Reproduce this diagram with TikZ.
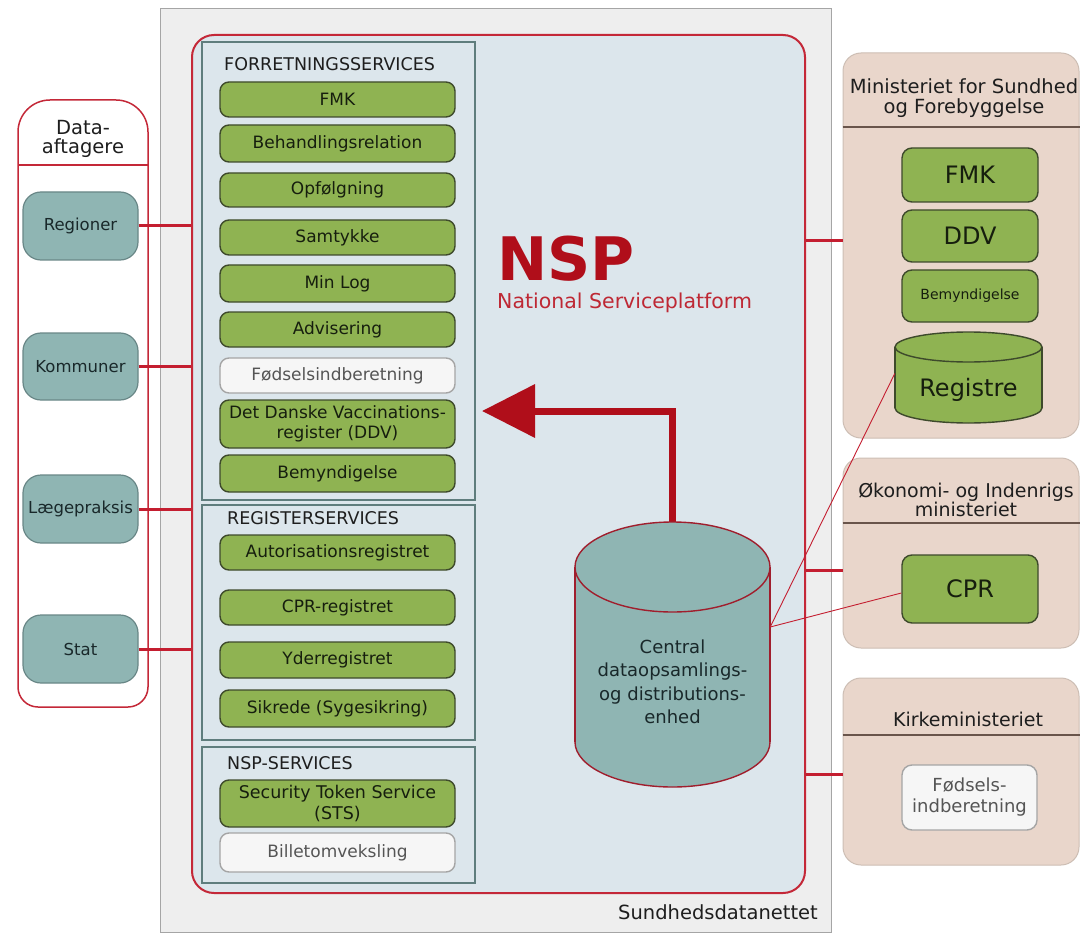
\documentclass[tikz,border=0pt]{standalone}
\usepackage{fontspec}
\setmainfont{DejaVu Sans}
\usetikzlibrary{arrows.meta}
\definecolor{graybg}{RGB}{238,238,238}
\definecolor{graybd}{RGB}{165,165,165}
\definecolor{nspfill}{RGB}{220,230,236}
\definecolor{nspred}{RGB}{196,40,56}
\definecolor{nspdark}{RGB}{176,14,26}
\definecolor{nspred2}{RGB}{190,40,52}
\definecolor{linkred}{RGB}{196,30,48}
\definecolor{sborder}{RGB}{95,125,125}
\definecolor{gfill}{RGB}{143,179,82}
\definecolor{gborder}{RGB}{62,74,44}
\definecolor{gtext}{RGB}{22,30,14}
\definecolor{wfill}{RGB}{246,246,246}
\definecolor{wborder}{RGB}{165,165,165}
\definecolor{wtext}{RGB}{85,85,85}
\definecolor{tfill}{RGB}{143,181,179}
\definecolor{tborder}{RGB}{105,135,135}
\definecolor{ttext}{RGB}{25,40,42}
\definecolor{pfill}{RGB}{233,214,203}
\definecolor{pborder}{RGB}{205,190,180}
\definecolor{pdiv}{RGB}{105,85,75}
\definecolor{cylborder}{RGB}{160,30,45}
\definecolor{labeldark}{RGB}{30,30,30}
\newcommand\myfs[2]{\fontsize{#1pt}{#2pt}\selectfont}
% xc, rx, y top centre, y bottom centre, ry, fill, draw, line width
\newcommand\mycyl[8]{%
  \fill[#6] (#1-#2,#3) rectangle (#1+#2,#4);
  \fill[#6] (#1,#4) ellipse[x radius=#2, y radius=#5];
  \begin{scope}
    \clip (#1-#2-5,#4) rectangle (#1+#2+5,#4+#5+5);
    \draw[#7,line width=#8] (#1,#4) ellipse[x radius=#2, y radius=#5];
  \end{scope}
  \draw[#7,line width=#8] (#1-#2,#3) -- (#1-#2,#4) (#1+#2,#3) -- (#1+#2,#4);
  \filldraw[fill=#6,draw=#7,line width=#8] (#1,#3) ellipse[x radius=#2, y radius=#5];
}
\begin{document}
\begin{tikzpicture}[x=1pt,y=-1pt,
  gbox/.style={draw=gborder, fill=gfill, rounded corners=9pt, line width=1.4pt,
    minimum width=235pt, inner sep=0pt, align=center, text=gtext, font=\myfs{17}{20}},
  wbox/.style={gbox, draw=wborder, fill=wfill, text=wtext},
  tbox/.style={draw=tborder, fill=tfill, rounded corners=18pt, line width=1.2pt,
    minimum width=115pt, minimum height=67pt, inner sep=0pt, text=ttext, font=\myfs{16.5}{19}},
  rbox/.style={gbox, minimum width=136pt, rounded corners=10pt, font=\myfs{24}{26}},
  panel/.style={draw=pborder, fill=pfill, rounded corners=18pt, line width=1pt, inner sep=0pt,
    minimum width=236pt},
  ptitle/.style={align=center, inner sep=0pt, text=labeldark, font=\myfs{19.5}{20}},
  secbox/.style={draw=sborder, fill=nspfill, line width=2pt, inner sep=0pt, minimum width=273pt},
  seclabel/.style={anchor=west, inner sep=0pt, text=labeldark, font=\myfs{17.5}{20}},
  stub/.style={draw=linkred, line width=3pt},
  thinlink/.style={draw=linkred, line width=0.9pt}
]
\useasboundingbox (0,0) rectangle (1081,933);
\fill[white] (0,0) rectangle (1081,933);

% network background
\node[draw=graybd, fill=graybg, line width=1pt, inner sep=0pt,
  minimum width=671pt, minimum height=923pt] (net) at (495.5,470.5) {};
\node[anchor=east, inner sep=0pt, text=labeldark, font=\myfs{19.5}{22}] (netlabel) at (818,912) {Sundhedsdatanettet};

% NSP platform
\node[draw=nspred, fill=nspfill, line width=2pt, rounded corners=22pt, inner sep=0pt,
  minimum width=613pt, minimum height=858pt] (nsp) at (498.5,464) {};

% sections
\node[secbox, minimum height=458pt] (forr) at (338.5,271) {};
\node[secbox, minimum height=235pt] (reg) at (338.5,622.5) {};
\node[secbox, minimum height=136pt] (nspsvc) at (338.5,815) {};
\node[seclabel] (forrlbl) at (224,64) {FORRETNINGSSERVICES};
\node[seclabel] (reglbl) at (227,518) {REGISTERSERVICES};
\node[seclabel] (nsplbl) at (227,763) {NSP-SERVICES};

% Forretningsservices
\node[gbox, minimum height=35pt] (fmk) at (337.5,99.5) {FMK};
\node[gbox, minimum height=37pt] (beh) at (337.5,143.5) {Behandlingsrelation};
\node[gbox, minimum height=34pt] (opf) at (337.5,190) {Opfølgning};
\node[gbox, minimum height=35pt] (sam) at (337.5,237.5) {Samtykke};
\node[gbox, minimum height=37pt] (minlog) at (337.5,283.5) {Min Log};
\node[gbox, minimum height=35pt] (adv) at (337.5,329.5) {Advisering};
\node[wbox, minimum height=35pt] (fods) at (337.5,375.5) {Fødselsindberetning};
\node[gbox, minimum height=48pt] (ddv) at (337.5,424) {Det Danske Vaccinations-\\register (DDV)};
\node[gbox, minimum height=37pt] (bem) at (337.5,473.5) {Bemyndigelse};

% Registerservices
\node[gbox, minimum height=35pt] (aut) at (337.5,552.5) {Autorisationsregistret};
\node[gbox, minimum height=35pt] (cprreg) at (337.5,607.5) {CPR-registret};
\node[gbox, minimum height=36pt] (yder) at (337.5,660) {Yderregistret};
\node[gbox, minimum height=37pt] (sik) at (337.5,708.5) {Sikrede (Sygesikring)};

% NSP-services
\node[gbox, minimum height=47pt, font=\myfs{17.5}{21}] (sts) at (337.5,803.5) {Security Token Service\\(STS)};
\node[wbox, minimum height=39pt] (bil) at (337.5,852.5) {Billetomveksling};

% NSP title
\node[anchor=west, inner sep=0pt, text=nspdark, font=\bfseries\myfs{60}{60}] (nsptitle) at (497,259) {NSP};
\node[anchor=west, inner sep=0pt, text=nspred2, font=\myfs{20.5}{22}] (nspsub) at (497,303) {National Serviceplatform};

% data-aftagere panel
\draw[draw=nspred, fill=white, line width=1.5pt]
  (18,300) [rounded corners=32pt] -- (18,100) -- (148,100) -- (148,300)
  [rounded corners=20pt] -- (148,707) -- (18,707) -- cycle;
\draw[nspred, line width=1.5pt] (18,165) -- (148,165);
\node[align=center, inner sep=0pt, text=labeldark, font=\myfs{19.5}{19}] (dtitle) at (83,139) {Data-\\aftagere};
\node[tbox, minimum height=68pt] (regioner) at (80.5,226) {Regioner};
\node[tbox] (kommuner) at (80.5,366.5) {Kommuner};
\node[tbox, minimum height=68pt] (laege) at (80.5,509) {Lægepraksis};
\node[tbox, minimum height=68pt] (stat) at (80.5,649) {Stat};
\foreach \n in {regioner,kommuner,laege,stat}
  \draw[stub] (\n.east) -- (\n.east -| nsp.west);

% right panels
\node[panel, minimum height=385pt] (mfs) at (961,245.5) {};
\draw[pdiv, line width=1.3pt] (mfs.west |- 0,127) -- (mfs.east |- 0,127);
\node[ptitle] (mfstitle) at (964,98) {Ministeriet for Sundhed\\og Forebyggelse};
\node[rbox, minimum height=54pt] (mfmk) at (970,175) {FMK};
\node[rbox, minimum height=52pt] (mddv) at (970,236) {DDV};
\node[rbox, minimum height=52pt, font=\myfs{14}{16}] (mbem) at (970,296) {Bemyndigelse};
\mycyl{968.5}{73.5}{347}{408}{15}{gfill}{gborder}{1.4pt}
\node[inner sep=0pt, minimum width=147pt, minimum height=91pt] (registre) at (968.5,377.5) {};
\node[inner sep=0pt, text=gtext, font=\myfs{24}{26}] (registretxt) at (968.5,390) {Registre};

\node[panel, minimum height=190pt] (oim) at (961,553) {};
\draw[pdiv, line width=1.3pt] (oim.west |- 0,523) -- (oim.east |- 0,523);
\node[ptitle, font=\myfs{19}{19}] (oimtitle) at (966,500) {Økonomi- og Indenrigs\\ministeriet};
\node[rbox, minimum height=68pt] (cpr) at (970,589) {CPR};

\node[panel, minimum height=187pt] (kirke) at (961,771.5) {};
\draw[pdiv, line width=1.3pt] (kirke.west |- 0,735) -- (kirke.east |- 0,735);
\node[ptitle, font=\myfs{19}{20}] (kirketitle) at (968,719) {Kirkeministeriet};
\node[rbox, draw=wborder, fill=wfill, text=wtext, minimum height=65pt, minimum width=135pt,
  font=\myfs{18}{21}] (kfods) at (969.5,797.5) {Fødsels-\\indberetning};

% right stubs
\path ([yshift=4.5pt]mfs.west) coordinate (s1)
      ([yshift=-17pt]oim.west) coordinate (s2)
      ([yshift=-2.5pt]kirke.west) coordinate (s3);
\foreach \s in {s1,s2,s3}
  \draw[stub] (\s -| nsp.east) -- (\s);

% central unit
\coordinate (arrowend) at (482,411);
\node[inner sep=0pt, minimum width=195pt, minimum height=265pt] (central) at (672.5,654.5) {};
\draw[nspdark, line width=7pt, -{Triangle[length=53pt,width=52pt]}] (central.north) |- (arrowend);
\mycyl{672.5}{97.5}{567}{742}{45}{tfill}{cylborder}{1.4pt}
\node[align=center, inner sep=0pt, text=ttext, font=\myfs{18}{23.5}] (centraltxt) at (672.5,682)
  {Central\\dataopsamlings-\\og distributions-\\enhed};

% thin links
\path ([yshift=27.5pt]central.east) coordinate (cr);
\draw[thinlink] (cr) -- ([yshift=4pt]registre.west);
\draw[thinlink] (cr) -- ([yshift=-4pt]cpr.west);
\end{tikzpicture}
\end{document}
